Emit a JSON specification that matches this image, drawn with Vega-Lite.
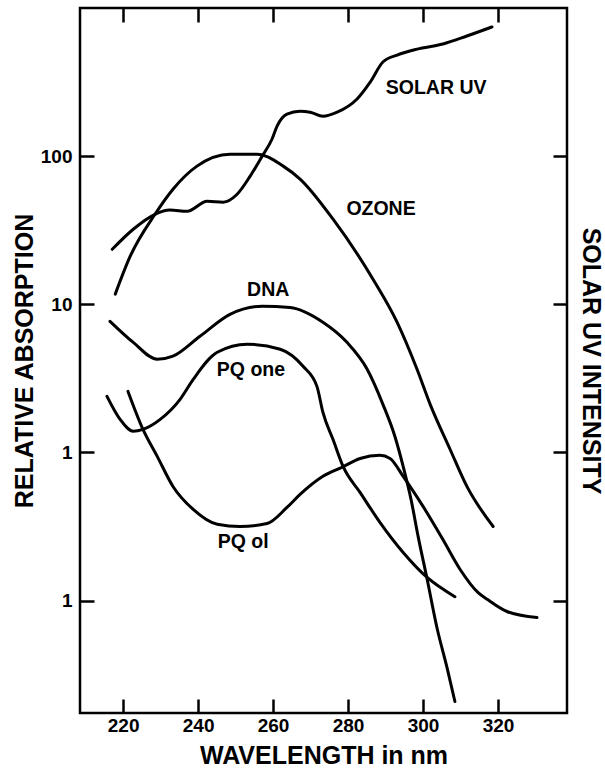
{
  "$schema": "https://vega.github.io/schema/vega-lite/v6.json",
  "width": 487,
  "height": 705,
  "autosize": {"type": "none"},
  "padding": {"left": 80, "top": 8, "right": 38, "bottom": 57},
  "background": "white",
  "config": {
    "font": "Liberation Sans",
    "view": {"stroke": "black", "strokeWidth": 2.5},
    "axis": {
      "grid": false,
      "domain": false,
      "tickColor": "black",
      "tickWidth": 2.5,
      "tickSize": -14,
      "labelColor": "black",
      "labelFont": "Liberation Sans",
      "labelFontWeight": "bold",
      "labelFontSize": 19,
      "titleColor": "black",
      "titleFont": "Liberation Sans",
      "titleFontWeight": "bold",
      "titleFontSize": 25
    }
  },
  "datasets": {
    "curves": [
      {"curve": "SOLAR UV", "wavelength": 217.1, "value": 23.5},
      {"curve": "SOLAR UV", "wavelength": 222.7, "value": 32.1},
      {"curve": "SOLAR UV", "wavelength": 228.5, "value": 40.5},
      {"curve": "SOLAR UV", "wavelength": 232.5, "value": 43.2},
      {"curve": "SOLAR UV", "wavelength": 237.1, "value": 42.5},
      {"curve": "SOLAR UV", "wavelength": 242.4, "value": 49.6},
      {"curve": "SOLAR UV", "wavelength": 246.7, "value": 48.9},
      {"curve": "SOLAR UV", "wavelength": 250.4, "value": 55.3},
      {"curve": "SOLAR UV", "wavelength": 253.9, "value": 73.3},
      {"curve": "SOLAR UV", "wavelength": 257.1, "value": 100},
      {"curve": "SOLAR UV", "wavelength": 259.7, "value": 130},
      {"curve": "SOLAR UV", "wavelength": 261.1, "value": 160},
      {"curve": "SOLAR UV", "wavelength": 263.7, "value": 192},
      {"curve": "SOLAR UV", "wavelength": 267.2, "value": 201},
      {"curve": "SOLAR UV", "wavelength": 269.9, "value": 198},
      {"curve": "SOLAR UV", "wavelength": 273.3, "value": 186},
      {"curve": "SOLAR UV", "wavelength": 277.1, "value": 198},
      {"curve": "SOLAR UV", "wavelength": 282.4, "value": 243},
      {"curve": "SOLAR UV", "wavelength": 285.9, "value": 316},
      {"curve": "SOLAR UV", "wavelength": 289.3, "value": 432},
      {"curve": "SOLAR UV", "wavelength": 293.1, "value": 481},
      {"curve": "SOLAR UV", "wavelength": 298.4, "value": 528},
      {"curve": "SOLAR UV", "wavelength": 305.3, "value": 571},
      {"curve": "SOLAR UV", "wavelength": 311.7, "value": 647},
      {"curve": "SOLAR UV", "wavelength": 318.4, "value": 745},

      {"curve": "OZONE", "wavelength": 217.9, "value": 11.7},
      {"curve": "OZONE", "wavelength": 221.9, "value": 21.1},
      {"curve": "OZONE", "wavelength": 228.5, "value": 40.5},
      {"curve": "OZONE", "wavelength": 233.3, "value": 59.8},
      {"curve": "OZONE", "wavelength": 239.7, "value": 85.6},
      {"curve": "OZONE", "wavelength": 248.5, "value": 103},
      {"curve": "OZONE", "wavelength": 255.7, "value": 103},
      {"curve": "OZONE", "wavelength": 262.7, "value": 85.6},
      {"curve": "OZONE", "wavelength": 267.2, "value": 70},
      {"curve": "OZONE", "wavelength": 276.0, "value": 37.5},
      {"curve": "OZONE", "wavelength": 286.7, "value": 14.7},
      {"curve": "OZONE", "wavelength": 293.1, "value": 7.55},
      {"curve": "OZONE", "wavelength": 298.4, "value": 3.64},
      {"curve": "OZONE", "wavelength": 301.9, "value": 2.11},
      {"curve": "OZONE", "wavelength": 307.2, "value": 1.05},
      {"curve": "OZONE", "wavelength": 311.7, "value": 0.589},
      {"curve": "OZONE", "wavelength": 318.7, "value": 0.316},

      {"curve": "DNA", "wavelength": 216.5, "value": 7.67},
      {"curve": "DNA", "wavelength": 222.7, "value": 5.53},
      {"curve": "DNA", "wavelength": 229.1, "value": 4.25},
      {"curve": "DNA", "wavelength": 233.3, "value": 4.46},
      {"curve": "DNA", "wavelength": 240.5, "value": 6.08},
      {"curve": "DNA", "wavelength": 248.5, "value": 8.55},
      {"curve": "DNA", "wavelength": 257.1, "value": 9.7},
      {"curve": "DNA", "wavelength": 264.5, "value": 9.5},
      {"curve": "DNA", "wavelength": 273.3, "value": 7.55},
      {"curve": "DNA", "wavelength": 279.7, "value": 5.53},
      {"curve": "DNA", "wavelength": 285.1, "value": 3.64},
      {"curve": "DNA", "wavelength": 289.3, "value": 2.11},
      {"curve": "DNA", "wavelength": 292.5, "value": 1.28},
      {"curve": "DNA", "wavelength": 294.9, "value": 0.767},
      {"curve": "DNA", "wavelength": 296.8, "value": 0.481},
      {"curve": "DNA", "wavelength": 298.7, "value": 0.27},
      {"curve": "DNA", "wavelength": 301.1, "value": 0.139},
      {"curve": "DNA", "wavelength": 303.7, "value": 0.0657},
      {"curve": "DNA", "wavelength": 306.4, "value": 0.0352},
      {"curve": "DNA", "wavelength": 308.5, "value": 0.0208},

      {"curve": "PQ one", "wavelength": 215.7, "value": 2.39},
      {"curve": "PQ one", "wavelength": 219.2, "value": 1.67},
      {"curve": "PQ one", "wavelength": 222.7, "value": 1.39},
      {"curve": "PQ one", "wavelength": 225.3, "value": 1.43},
      {"curve": "PQ one", "wavelength": 229.9, "value": 1.67},
      {"curve": "PQ one", "wavelength": 235.2, "value": 2.28},
      {"curve": "PQ one", "wavelength": 238.7, "value": 3.11},
      {"curve": "PQ one", "wavelength": 245.1, "value": 4.74},
      {"curve": "PQ one", "wavelength": 253.1, "value": 5.37},
      {"curve": "PQ one", "wavelength": 261.9, "value": 4.97},
      {"curve": "PQ one", "wavelength": 268.0, "value": 3.81},
      {"curve": "PQ one", "wavelength": 271.7, "value": 2.79},
      {"curve": "PQ one", "wavelength": 273.3, "value": 1.86},
      {"curve": "PQ one", "wavelength": 276.0, "value": 1.22},
      {"curve": "PQ one", "wavelength": 278.7, "value": 0.8},
      {"curve": "PQ one", "wavelength": 283.2, "value": 0.537},
      {"curve": "PQ one", "wavelength": 288.5, "value": 0.337},
      {"curve": "PQ one", "wavelength": 294.7, "value": 0.211},
      {"curve": "PQ one", "wavelength": 301.1, "value": 0.143},
      {"curve": "PQ one", "wavelength": 308.5, "value": 0.106},

      {"curve": "PQ ol", "wavelength": 221.3, "value": 2.58},
      {"curve": "PQ ol", "wavelength": 225.3, "value": 1.43},
      {"curve": "PQ ol", "wavelength": 229.1, "value": 0.94},
      {"curve": "PQ ol", "wavelength": 233.3, "value": 0.589},
      {"curve": "PQ ol", "wavelength": 238.7, "value": 0.412},
      {"curve": "PQ ol", "wavelength": 245.1, "value": 0.327},
      {"curve": "PQ ol", "wavelength": 251.2, "value": 0.316},
      {"curve": "PQ ol", "wavelength": 258.4, "value": 0.331},
      {"curve": "PQ ol", "wavelength": 263.7, "value": 0.425},
      {"curve": "PQ ol", "wavelength": 267.2, "value": 0.52},
      {"curve": "PQ ol", "wavelength": 273.3, "value": 0.689},
      {"curve": "PQ ol", "wavelength": 278.7, "value": 0.8},
      {"curve": "PQ ol", "wavelength": 283.2, "value": 0.91},
      {"curve": "PQ ol", "wavelength": 288.5, "value": 0.955},
      {"curve": "PQ ol", "wavelength": 291.2, "value": 0.91},
      {"curve": "PQ ol", "wavelength": 294.7, "value": 0.689},
      {"curve": "PQ ol", "wavelength": 300.0, "value": 0.432},
      {"curve": "PQ ol", "wavelength": 305.3, "value": 0.258},
      {"curve": "PQ ol", "wavelength": 309.9, "value": 0.162},
      {"curve": "PQ ol", "wavelength": 314.7, "value": 0.113},
      {"curve": "PQ ol", "wavelength": 317.1, "value": 0.102},
      {"curve": "PQ ol", "wavelength": 322.4, "value": 0.0843},
      {"curve": "PQ ol", "wavelength": 330.4, "value": 0.0768}
    ],
    "labels": [
      {"label": "SOLAR UV", "wavelength": 303.5, "value": 288},
      {"label": "OZONE", "wavelength": 288.8, "value": 43.9},
      {"label": "DNA", "wavelength": 258.7, "value": 12.4},
      {"label": "PQ one", "wavelength": 254.1, "value": 3.58},
      {"label": "PQ ol", "wavelength": 252.0, "value": 0.247}
    ]
  },
  "layer": [
    {
      "data": {"name": "curves"},
      "mark": {"type": "line", "color": "black", "strokeWidth": 3, "interpolate": "monotone", "strokeCap": "round", "strokeJoin": "round", "clip": true},
      "encoding": {
        "x": {
          "field": "wavelength", "type": "quantitative",
          "scale": {"domain": [208.5, 338.4], "nice": false, "zero": false},
          "axis": {"orient": "bottom", "values": [220, 240, 260, 280, 300, 320], "labelPadding": 17, "title": "WAVELENGTH in nm", "titlePadding": 8}
        },
        "y": {
          "field": "value", "type": "quantitative",
          "scale": {"type": "log", "domain": [0.0174, 1000], "nice": false},
          "axis": {"orient": "left", "values": [0.1, 1, 10, 100], "labelExpr": "datum.value < 0.5 ? '1' : format(datum.value, 'd')", "labelPadding": 22, "title": "RELATIVE ABSORPTION", "titleFontSize": 25, "titleBaseline": "alphabetic", "titlePadding": 8}
        },
        "detail": {"field": "curve", "type": "nominal"}
      }
    },
    {
      "data": {"name": "labels"},
      "mark": {"type": "text", "color": "black", "font": "Liberation Sans", "fontWeight": "bold", "fontSize": 19.5, "align": "center", "baseline": "middle"},
      "encoding": {
        "x": {
          "field": "wavelength", "type": "quantitative",
          "scale": {"domain": [208.5, 338.4], "nice": false, "zero": false},
          "axis": {"orient": "top", "values": [220, 240, 260, 280, 300, 320], "labels": false, "title": null}
        },
        "y": {
          "field": "value", "type": "quantitative",
          "scale": {"type": "log", "domain": [0.0174, 1000], "nice": false},
          "axis": {"orient": "right", "values": [0.1, 1, 10, 100], "labels": false, "title": "SOLAR UV INTENSITY", "titleFontSize": 25, "titleBaseline": "alphabetic", "titlePadding": 14}
        },
        "text": {"field": "label", "type": "nominal"}
      }
    }
  ],
  "resolve": {"axis": {"x": "independent", "y": "independent"}}
}
